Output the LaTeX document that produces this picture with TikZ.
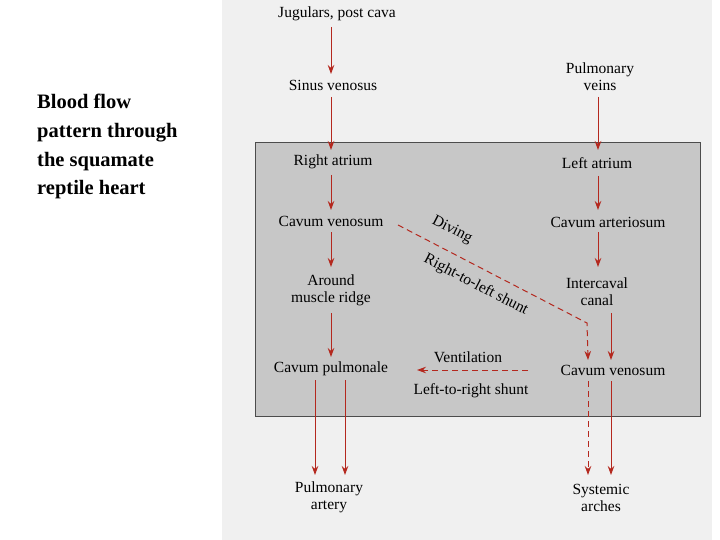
\documentclass[tikz,border=0pt]{standalone}
\usepackage{fontspec}
\setmainfont{Liberation Serif}
\usetikzlibrary{arrows.meta}
\definecolor{flowred}{RGB}{180,40,30}
\begin{document}
\begin{tikzpicture}[x=1pt,y=-1pt,
  lab/.style={font=\fontsize{15.5}{17}\selectfont,align=center,inner sep=1pt},
  fl/.style={color=flowred,line width=1pt,-{Stealth[length=9pt,width=6.5pt]}},
  dfl/.style={fl,dashed,dash pattern=on 6pt off 4pt}]
\useasboundingbox (0,0) rectangle (720,540);
\fill[white] (0,0) rectangle (720,540);
\fill[black!6] (222,0) rectangle (712,540);
\fill[black!22] (255,142) rectangle (700,416);
\draw[black!70,line width=0.8pt] (255,142) rectangle (700,416);
\node[font=\bfseries\fontsize{20.5}{28.7}\selectfont,align=left,anchor=north west,inner sep=0] (t) at (37,94) {Blood flow\\pattern through\\the squamate\\reptile heart};
\node[lab] (jug) at (337,14) {Jugulars, post cava};
\node[lab] (sin) at (333,85) {Sinus venosus};
\node[lab] (pv) at (600,77) {Pulmonary\\veins};
\node[lab] (ra) at (333,162) {Right atrium};
\node[lab] (la) at (597,163) {Left atrium};
\node[lab] (cv) at (331,221) {Cavum venosum};
\node[lab] (ca) at (608,222) {Cavum arteriosum};
\node[lab] (amr) at (331,290) {Around\\muscle ridge};
\node[lab] (ic) at (597,292) {Intercaval\\canal};
\node[lab] (cp) at (331,369) {Cavum pulmonale};
\node[lab] (cvr) at (613,370) {Cavum venosum};
\node[lab] (vent) at (468,357) {Ventilation};
\node[lab] (lrs) at (471,391) {Left-to-right shunt};
\node[lab] (pa) at (329,497) {Pulmonary\\artery};
\node[lab] (sa) at (601,498) {Systemic\\arches};
\node[lab,rotate=-27.4] (div) at (452,230) {Diving};
\node[lab,rotate=-27.4] (rls) at (476,285) {Right-to-left shunt};
\coordinate (d1) at (398,225);
\coordinate (d2) at (587,323);
\coordinate (v1) at (528,370);
\coordinate (v2) at (417,370);
\draw[fl] (331,27) -- (331,74);
\draw[fl] (331,97) -- (331,150);
\draw[fl] (331,175) -- (331,210);
\draw[fl] (331,232) -- (331,267);
\draw[fl] (331,313) -- (331,357);
\draw[fl] (598,97) -- (598,150);
\draw[fl] (598,176) -- (598,210);
\draw[fl] (598,232) -- (598,267);
\draw[fl] (611,313) -- (611,360);
\draw[dfl] (d1) -- (d2) -- (588,360);
\draw[dfl] (v1) -- (v2);
\draw[fl] (315,380) -- (315,475);
\draw[fl] (345,380) -- (345,475);
\draw[dfl] (588,381) -- (588,475);
\draw[fl] (611,381) -- (611,475);
\end{tikzpicture}
\end{document}
